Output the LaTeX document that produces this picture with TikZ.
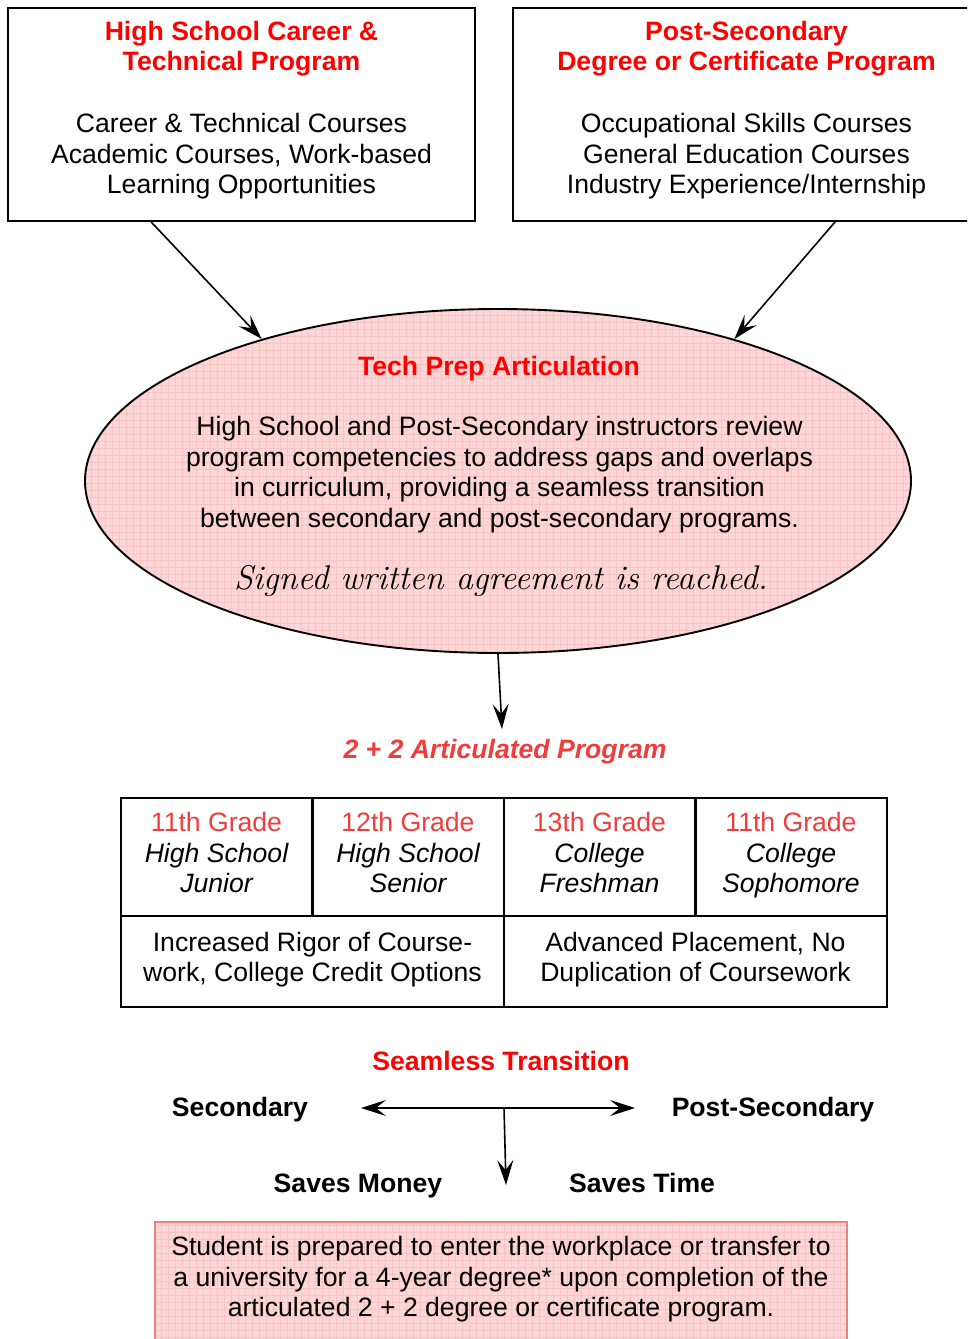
\documentclass[tikz,border=0pt]{standalone}
\usepackage{fontspec}
\setmainfont{Liberation Sans}
\newfontfamily\lmrm{Latin Modern Roman}
\usetikzlibrary{arrows.meta,shapes.geometric}
\definecolor{hred}{RGB}{255,0,0}
\definecolor{gred}{RGB}{240,60,60}
\definecolor{pinkfill}{RGB}{255,214,214}
\definecolor{pinkgrid}{RGB}{246,196,196}
\definecolor{salmon}{RGB}{240,128,128}
\newcommand\myfs{\fontsize{26.6}{30.6}\selectfont}
\begin{document}
\begin{tikzpicture}[x=1pt,y=-1pt,
  box/.style={draw, line width=1.8pt, minimum width=467pt, minimum height=213pt, inner sep=0pt},
  txt/.style={align=center, font=\myfs, inner sep=0pt, execute at begin node=\strut, execute at end node=\strut},
  ttl/.style={txt, font=\myfs\bfseries, text=hred},
  cell/.style={draw, line width=2.5pt, inner sep=0pt, align=center, font=\myfs, execute at begin node=\strut, execute at end node=\strut},
  tip/.tip={Stealth[length=25pt,width=16pt,inset=10pt]},
  arr/.style={-tip, line width=1.6pt},
  lbl/.style={txt, font=\myfs\bfseries}]
\useasboundingbox (0,0) rectangle (967,1339);
\clip (0,0) rectangle (967,1339);
\fill[white] (0,0) rectangle (967,1339);

% top boxes
\node[box] (lb) at (241.5,114.5) {};
\node[ttl] (lbt) at (241.5,50.4) {High School Career \&\\Technical Program};
\node[txt] (lbb) at (241.5,158) {Career \& Technical Courses\\Academic Courses, Work-based\\Learning Opportunities};

\node[box] (rb) at (746.5,114.5) {};
\node[ttl] (rbt) at (746.5,50.4) {Post-Secondary\\Degree or Certificate Program};
\node[txt] (rbb) at (746.5,158) {Occupational Skills Courses\\General Education Courses\\Industry Experience/Internship};

% ellipse
\begin{scope}
  \clip (498,481) ellipse [x radius=413, y radius=172];
  \fill[pinkfill] (80,300) rectangle (920,660);
  \draw[pinkgrid, line width=0.6pt, step=7pt] (80,300) grid (920,660);
\end{scope}
\node[ellipse, draw, line width=1.9pt, minimum width=826pt, minimum height=344pt, inner sep=0pt] (ell) at (498,481) {};
\node[ttl] (et) at (499,369.5) {Tech Prep Articulation};
\node[txt] (eb) at (499.5,476.5) {High School and Post-Secondary instructors review\\program competencies to address gaps and overlaps\\in curriculum, providing a seamless transition\\between secondary and post-secondary programs.};
\node[inner sep=0pt, font=\lmrm\itshape\fontsize{34.3}{38}\selectfont] (es) at (501,581) {Signed written agreement is reached.};

\draw[arr] ([xshift=144pt]lb.south west) -- (ell.149);
\draw[arr] ([xshift=323pt]rb.south west) -- (ell.31);

% 2+2
\coordinate (pa) at (502,729);
\draw[arr] (ell.south) -- (pa);
\node[txt, font=\myfs\bfseries\itshape, text=gred] (prog) at (505,752.5) {2 + 2 Articulated Program};

% table
\node[cell, minimum width=191.5pt, minimum height=118pt] (c1) at (216.5,857) {\textcolor{gred}{11th Grade}\\\itshape High School\\\itshape Junior};
\node[cell, minimum width=191.5pt, minimum height=118pt] (c2) at (408,857) {\textcolor{gred}{12th Grade}\\\itshape High School\\\itshape Senior};
\node[cell, minimum width=191.5pt, minimum height=118pt] (c3) at (599.5,857) {\textcolor{gred}{13th Grade}\\\itshape College\\\itshape Freshman};
\node[cell, minimum width=191.5pt, minimum height=118pt] (c4) at (791,857) {\textcolor{gred}{11th Grade}\\\itshape College\\\itshape Sophomore};
\node[cell, minimum width=383pt, minimum height=91pt] (d1) at (312.5,961.5) {Increased Rigor of Course-\\work, College Credit Options};
\node[cell, minimum width=383pt, minimum height=91pt] (d2) at (695.5,961.5) {Advanced Placement, No\\Duplication of Coursework};

% seamless transition
\node[ttl] (st) at (501,1064.5) {Seamless Transition};
\node[lbl] (sec) at (240,1110.5) {Secondary};
\node[lbl] (psec) at (773,1110.5) {Post-Secondary};
\coordinate (hl) at (361,1108);
\coordinate (hr) at (635,1108);
\coordinate (hm) at (504,1108);
\coordinate (vb) at (506,1185);
\draw[tip-tip, line width=1.6pt] (hl) -- (hr);
\draw[arr] (hm) -- (vb);
\node[lbl] (sm) at (358,1186.5) {Saves Money};
\node[lbl] (stime) at (642,1186.5) {Saves Time};

% bottom box
\begin{scope}
  \clip (155,1222) rectangle (847,1346);
  \fill[pinkfill] (155,1222) rectangle (847,1346);
  \draw[pinkgrid, line width=0.6pt, step=7pt] (150,1215) grid (850,1350);
\end{scope}
\node[draw=salmon, line width=2pt, minimum width=692pt, minimum height=124pt, inner sep=0pt] (res) at (501,1284) {};
\node[txt] (rest) at (501,1281) {Student is prepared to enter the workplace or transfer to\\a university for a 4-year degree* upon completion of the\\articulated 2 + 2 degree or certificate program.};
\end{tikzpicture}
\end{document}
